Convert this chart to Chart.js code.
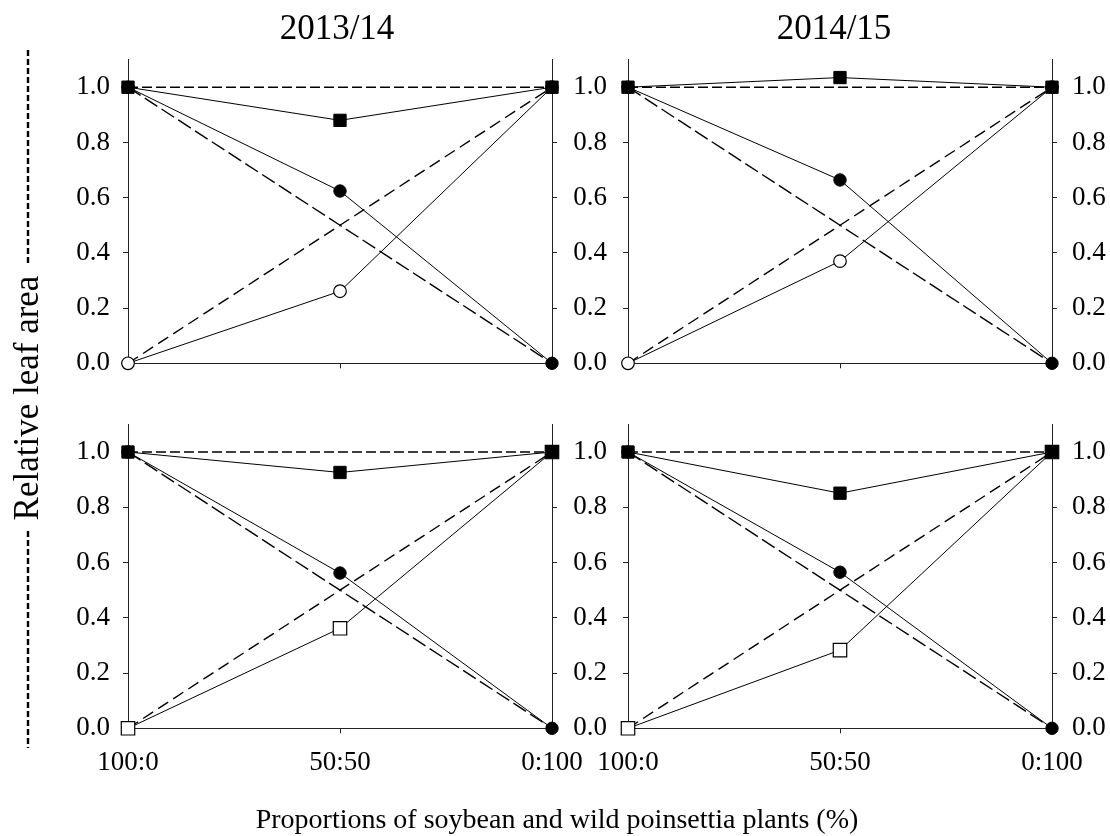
<!DOCTYPE html>
<html><head><meta charset="utf-8">
<script src="https://cdn.jsdelivr.net/npm/chart.js@4.4.1/dist/chart.umd.min.js"></script>
<style>
html,body{margin:0;padding:0;background:#fff;}
#fig{position:relative;width:1110px;height:836px;overflow:hidden;background:#fff;font-family:"Liberation Serif","Times New Roman",serif;color:#000;}
canvas{position:absolute;}
.txt{position:absolute;line-height:1;white-space:nowrap;}
</style></head><body>
<div id="fig">
  <canvas id="c0" width="600" height="390" style="left:0;top:20px"></canvas>
  <canvas id="c1" width="550" height="390" style="left:560px;top:20px"></canvas>
  <canvas id="c2" width="600" height="451" style="left:0;top:385px"></canvas>
  <canvas id="c3" width="550" height="451" style="left:560px;top:385px"></canvas>
  <div class="txt" id="t0" style="left:337px;top:10px;font-size:35px;transform:translateX(-50%)"></div>
  <div class="txt" id="t1" style="left:834px;top:10px;font-size:35px;transform:translateX(-50%)"></div>
  <div class="txt" id="xt" style="left:557px;top:805px;font-size:28px;transform:translateX(-50%)"></div>
  <div class="txt" id="yt" style="left:26px;top:398px;font-size:35px;transform:translate(-50%,-50%) rotate(-90deg)"></div>
  <svg width="60" height="836" style="position:absolute;left:0;top:0">
    <line x1="28" y1="50" x2="28" y2="264" stroke="#000" stroke-width="2.4" stroke-dasharray="6 3"/>
    <line x1="28" y1="531" x2="28" y2="748" stroke="#000" stroke-width="2.4" stroke-dasharray="6 3"/>
  </svg>
</div>
<script>
// ---- data ----
const categories = ['100:0', '50:50', '0:100'];
const seasons = ['2013/14', '2014/15'];
const xTitle = 'Proportions of soybean and wild poinsettia plants (%)';
const yTitle = 'Relative leaf area';
const yTickValues = [0, 0.2, 0.4, 0.6, 0.8, 1.0];

// expected (no-competition) lines
const expectedTotal = [1.0, 1.0, 1.0];
const expectedSoybean = [1.0, 0.5, 0.0];
const expectedWeed = [0.0, 0.5, 1.0];

// observed, top row
const top1314Total = [1.0, 0.880, 1.0];
const top1314Soybean = [1.0, 0.624, 0.0];
const top1314Weed = [0.0, 0.261, 1.0];
const top1415Total = [1.0, 1.035, 1.0];
const top1415Soybean = [1.0, 0.664, 0.0];
const top1415Weed = [0.0, 0.370, 1.0];
// observed, bottom row
const bot1314Total = [1.0, 0.926, 1.0];
const bot1314Soybean = [1.0, 0.562, 0.0];
const bot1314Weed = [0.0, 0.362, 1.0];
const bot1415Total = [1.0, 0.851, 1.0];
const bot1415Soybean = [1.0, 0.565, 0.0];
const bot1415Weed = [0.0, 0.283, 1.0];

// ---- text ----
document.getElementById('t0').textContent = seasons[0];
document.getElementById('t1').textContent = seasons[1];
document.getElementById('xt').textContent = xTitle;
document.getElementById('yt').textContent = yTitle;

const FONT = "'Liberation Serif','Times New Roman',serif";
const AX = '#222';

function yScale(position, showLabels, width, pad) {
  return {
    type: 'linear', position: position, min: 0, max: 1.1,
    afterBuildTicks: s => { s.ticks = yTickValues.map(v => ({value: v})); },
    ticks: {display: showLabels, padding: pad, color: '#000',
      font: {family: FONT, size: 27}, callback: v => Number(v).toFixed(1)},
    grid: {drawOnChartArea: false, drawTicks: true, tickLength: 5, color: AX, lineWidth: 1},
    border: {display: true, color: AX, width: 1},
    afterFit: s => { s.width = width; }
  };
}
function xScale(showLabels, height) {
  return {
    type: 'category', labels: categories, offset: false,
    ticks: {display: showLabels, padding: 13, color: '#000', autoSkip: false, maxRotation: 0,
      font: {family: FONT, size: 27}},
    grid: {drawOnChartArea: false, drawTicks: true, tickLength: 5, color: AX, offset: false},
    border: {display: true, color: AX, width: 1},
    afterFit: s => { s.height = height; }
  };
}
function line(data, o) {
  return Object.assign({data: data, borderColor: '#000', backgroundColor: '#000', borderWidth: 1,
    pointRadius: 0, pointHoverRadius: 0, fill: false, tension: 0, clip: false}, o);
}
function datasets(total, soy, weed, weedStyle) {
  const weedSize = weedStyle === 'rect' ? 9.5 : 6.3;
  return [
    line(total, {pointStyle: 'rect', pointRadius: 8.7, pointBackgroundColor: '#000', pointBorderColor: '#000', pointBorderWidth: 1}),
    line(soy, {pointStyle: 'circle', pointRadius: 6.2, pointBackgroundColor: '#000', pointBorderColor: '#000', pointBorderWidth: 1}),
    line(weed, {pointStyle: weedStyle, pointRadius: weedSize, pointBackgroundColor: '#fff', pointBorderColor: '#000', pointBorderWidth: 1.2}),
    line(expectedTotal, {borderDash: [10, 4], borderWidth: 1.4}),
    line(expectedSoybean, {borderDash: [15, 5], borderWidth: 1.4}),
    line(expectedWeed, {borderDash: [12, 6], borderWidth: 1.4})
  ];
}
function panel(id, sets, left, right, showX, padTop, xHeight) {
  new Chart(document.getElementById(id), {
    type: 'line',
    data: {labels: categories, datasets: sets},
    options: {
      responsive: false, animation: false, devicePixelRatio: 1,
      layout: {padding: {top: padTop, left: 0, right: 0, bottom: 0}},
      plugins: {legend: {display: false}, tooltip: {enabled: false}, title: {display: false}},
      events: [],
      scales: {x: xScale(showX, xHeight), y: left, y2: right}
    }
  });
}
// top row (chart area y: 59.6..363.3)
panel('c0', datasets(top1314Total, top1314Soybean, top1314Weed, 'circle'),
  yScale('left', true, 128, 13), yScale('right', false, 48, 13), false, 39.6, 46.7);
panel('c1', datasets(top1415Total, top1415Soybean, top1415Weed, 'circle'),
  yScale('left', true, 68, 16), yScale('right', true, 58, 15), false, 39.6, 46.7);
// bottom row (chart area y: 424.4..728.3)
panel('c2', datasets(bot1314Total, bot1314Soybean, bot1314Weed, 'rect'),
  yScale('left', true, 128, 13), yScale('right', false, 48, 13), true, 39.4, 107.7);
panel('c3', datasets(bot1415Total, bot1415Soybean, bot1415Weed, 'rect'),
  yScale('left', true, 68, 16), yScale('right', true, 58, 15), true, 39.4, 107.7);
</script>
</body></html>
